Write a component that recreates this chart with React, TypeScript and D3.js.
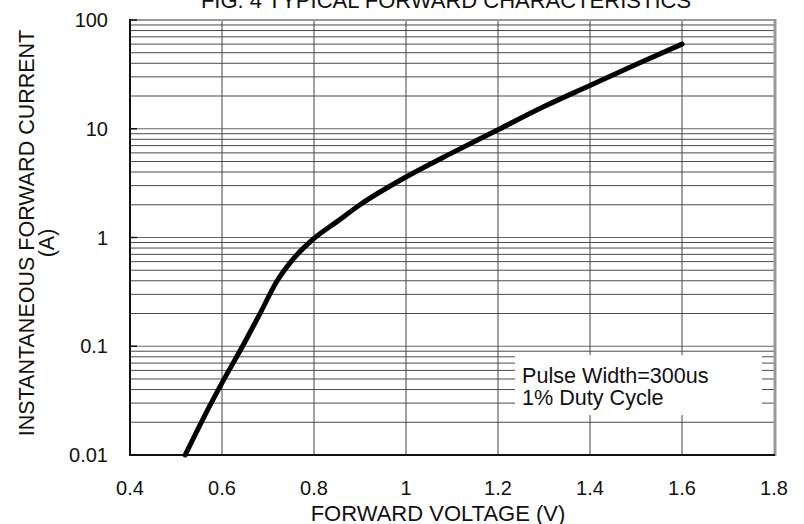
import * as d3 from 'd3'

const voltage = [0.52, 0.56, 0.6, 0.65, 0.68, 0.72, 0.75, 0.8, 0.85, 0.9, 1.0, 1.1, 1.2, 1.3, 1.4, 1.5, 1.6]
const current = [0.01, 0.022, 0.046, 0.11, 0.19, 0.4, 0.6, 0.98, 1.4, 2.0, 3.6, 6.0, 9.8, 16, 25, 39, 60]
const xTicks = [0.4, 0.6, 0.8, 1, 1.2, 1.4, 1.6, 1.8]
const yTicks = [0.01, 0.1, 1, 10, 100]
const yTickLabels = ['0.01', '0.1', '1', '10', '100']
const legendLines = ['Pulse Width=300us', '1% Duty Cycle']

const W = 804
const H = 524
const left = 130
const right = 774
const top = 20
const bottom = 455
const font = 'Arial, "Liberation Sans", sans-serif'

export default function App() {
  const x = d3.scaleLinear().domain([0.4, 1.8]).range([left, right])
  const y = d3.scaleLog().domain([0.01, 100]).range([bottom, top])

  // minor lines 2..9 in every decade
  const minor: number[] = []
  for (let d = 0.01; d < 100; d *= 10) {
    for (let m = 2; m <= 9; m++) minor.push(+(d * m).toPrecision(3))
  }

  const pts = voltage.map((v, i) => [v, current[i]] as [number, number])
  const line = d3.line<[number, number]>()
    .x(d => x(d[0]))
    .y(d => y(d[1]))
    .curve(d3.curveMonotoneX)

  const box = { x0: 515, x1: 762, y0: 355, y1: 415 }

  return (
    <svg width={W} height={H} style={{ position: 'absolute', left: 0, top: 0, background: '#fff' }}>
      <rect x={0} y={0} width={W} height={H} fill="#fff" />

      {/* horizontal grid */}
      {minor.map(v => (
        <line key={'h' + v} x1={left} x2={right} y1={y(v)} y2={y(v)} stroke="#4a4a4a" strokeWidth={1} />
      ))}
      {yTicks.slice(1, -1).map(v => (
        <line key={'d' + v} x1={left} x2={right} y1={y(v)} y2={y(v)} stroke="#666" strokeWidth={1} />
      ))}

      {/* vertical grid */}
      {xTicks.slice(1, -1).map(v => (
        <line key={'v' + v} x1={x(v)} x2={x(v)} y1={top} y2={bottom} stroke="#444" strokeWidth={1} />
      ))}

      {/* legend box */}
      <rect x={box.x0} y={box.y0} width={box.x1 - box.x0} height={box.y1 - box.y0} fill="#fff" />
      {legendLines.map((t, i) => (
        <text key={t} x={522} y={383 + i * 22} fontFamily={font} fontSize={21.6} fill="#111">{t}</text>
      ))}

      {/* frame */}
      <line x1={left} x2={right + 1} y1={top} y2={top} stroke="#999" strokeWidth={2} />
      <line x1={right + 1} x2={right + 1} y1={top - 1} y2={bottom + 1} stroke="#999" strokeWidth={3} />
      <line x1={left} x2={right + 1} y1={bottom} y2={bottom} stroke="#111" strokeWidth={2} />
      <line x1={left} x2={left} y1={top - 1} y2={bottom + 1} stroke="#111" strokeWidth={2} />
      {yTicks.map(v => (
        <line key={'t' + v} x1={left} x2={left + 7} y1={y(v)} y2={y(v)} stroke="#111" strokeWidth={1.5} />
      ))}

      {/* curve */}
      <path d={line(pts) ?? ''} fill="none" stroke="#000" strokeWidth={5} strokeLinecap="round" />

      {/* tick labels */}
      {yTicks.map((v, i) => (
        <text key={'yl' + v} x={108} y={y(v)} dy="0.35em" textAnchor="end" fontFamily={font} fontSize={20} fill="#111">
          {yTickLabels[i]}
        </text>
      ))}
      {xTicks.map(v => (
        <text key={'xl' + v} x={x(v)} y={495} textAnchor="middle" fontFamily={font} fontSize={20} fill="#111">
          {d3.format('')(v)}
        </text>
      ))}

      {/* titles */}
      <text x={446} y={8} textAnchor="middle" fontFamily={font} fontSize={22} fill="#111">
        FIG. 4 TYPICAL FORWARD CHARACTERISTICS
      </text>
      <text x={438} y={521} textAnchor="middle" fontFamily={font} fontSize={22} fill="#111">
        FORWARD VOLTAGE (V)
      </text>
      <text transform="translate(34,233) rotate(-90)" textAnchor="middle" fontFamily={font} fontSize={21.5} fill="#111">
        INSTANTANEOUS FORWARD CURRENT
      </text>
      <text transform="translate(54,243) rotate(-90)" textAnchor="middle" fontFamily={font} fontSize={21.5} fill="#111">
        (A)
      </text>
    </svg>
  )
}
